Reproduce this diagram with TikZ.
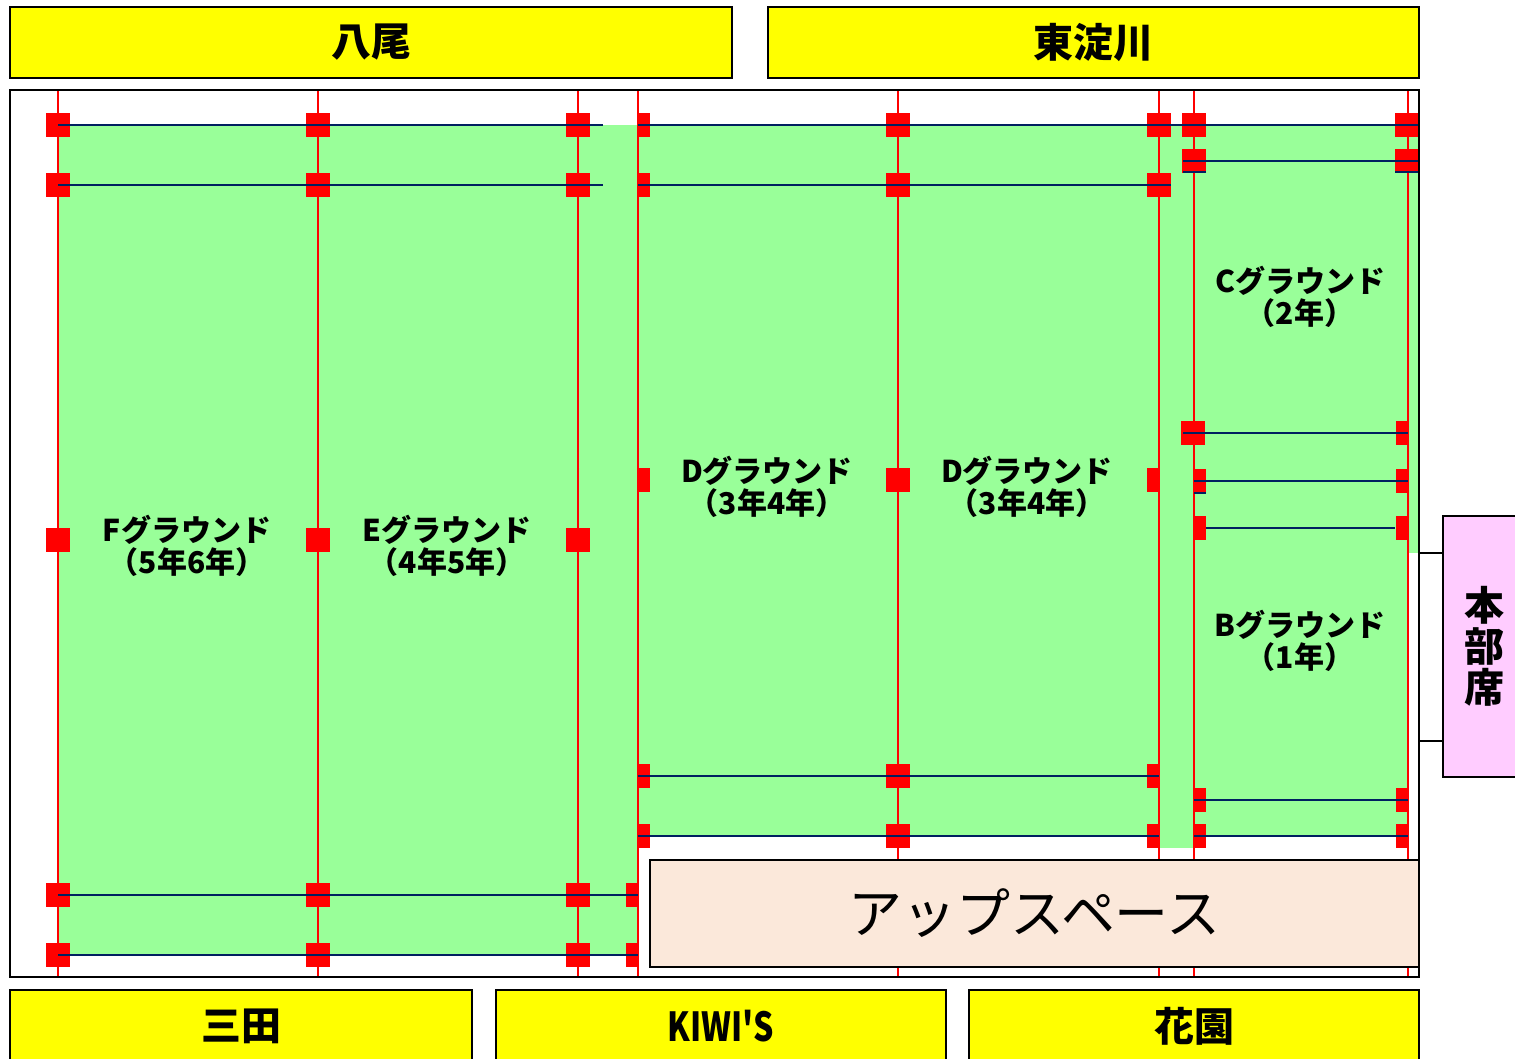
\documentclass[tikz,border=0pt]{standalone}
\usepackage{fontspec}
\newfontfamily\cjk{Noto Sans CJK JP}
\usepackage{tikz}
\usetikzlibrary{positioning}
\definecolor{colorGround}{RGB}{153,255,153}
\definecolor{colorPost}{RGB}{255,0,0}
\definecolor{colorNet}{RGB}{0,32,96}
\definecolor{colorTeam}{RGB}{255,255,0}
\definecolor{colorHQ}{RGB}{255,204,255}
\definecolor{colorUp}{RGB}{251,232,218}
\tikzset{
  team/.style={draw=black, line width=1pt, fill=colorTeam, inner sep=0pt, font=\cjk\bfseries\fontsize{20}{22}\selectfont},
  ground/.style={align=center, inner sep=0pt, font=\cjk\bfseries\fontsize{15}{16}\selectfont},
  post/.style={fill=colorPost, draw=none, minimum size=12pt, inner sep=0pt},
  pole/.style={colorPost, line width=0.75pt},
  net/.style={colorNet, line width=1pt},
}

\begin{document}
\begin{tikzpicture}[x=0.5pt, y=-0.5pt]
\useasboundingbox (0,0) rectangle (1515,1059);
% grounds
\fill[colorGround] (58,125) rectangle (638,955);
\fill[colorGround] (638,125) rectangle (1194,836);
\fill[colorGround] (1159,125) rectangle (1194,848);
\fill[colorGround] (1194,125) rectangle (1418,553);
\fill[colorGround] (1194,553) rectangle (1408,836);
% poles
\foreach \x in {58,318,578,638,898,1159,1194,1408}
  \draw[pole] (\x,90) -- (\x,977);
% posts
\foreach \x in {58,318,578}
  \foreach \y in {125,185,540,895,955}
    \node[post] (p\x-\y) at (\x,\y) {};
\foreach \y in {125,185,480,776,836}
  \node[post] (p898-\y) at (898,\y) {};
\node[post] (p1159-125) at (1159,125) {};
\node[post] (p1159-185) at (1159,185) {};
\node[post] (p1194-125) at (1194,125) {};
\node[post] (p1194-161) at (1194,161) {};
\node[post] (p1194-433) at (1193,433) {};
\node[post] (p1408-125) at (1407,125) {};
\node[post] (p1408-161) at (1407,161) {};
\foreach \y in {125,185,480,776,836}
  \fill[colorPost] (638,\y-12) rectangle ++(12,24);
\foreach \y in {895,955}
  \fill[colorPost] (626,\y-12) rectangle ++(12,24);
\foreach \y in {480,776,836}
  \fill[colorPost] (1147,\y-12) rectangle ++(12,24);
\foreach \y in {481,528,800,836}
  \fill[colorPost] (1194,\y-12) rectangle ++(12,24);
\foreach \y in {433,481,528,800,836}
  \fill[colorPost] (1396,\y-12) rectangle ++(12,24);
% nets
\draw[net] (58,125) -- (603,125);
\draw[net] (638,125) -- (1418,125);
\draw[net] (58,185) -- (603,185);
\draw[net] (638,185) -- (1171,185);
\draw[net] (58,895) -- (638,895);
\draw[net] (58,955) -- (638,955);
\draw[net] (638,776) -- (1159,776);
\draw[net] (638,836) -- (1159,836);
\draw[net] (1194,836) -- (1408,836);
\draw[net] (1183,161) -- (1418,161);
\draw[net] (1183,172) -- (1206,172);
\draw[net] (1395,172) -- (1418,172);
\draw[net] (1183,433) -- (1408,433);
\draw[net] (1194,481) -- (1408,481);
\draw[net] (1194,493) -- (1206,493);
\draw[net] (1206,528) -- (1395,528);
\draw[net] (1194,800) -- (1408,800);
% field frame
\draw[line width=1pt] (10,90) rectangle (1419,977);
\node[draw=black, line width=1pt, fill=colorUp, minimum width=384.5pt, minimum height=53.5pt, inner sep=0pt, font=\cjk\fontsize{27}{28}\selectfont] (up) at (1034.5,913.5) {アップスペース};
% teams
\node[team, minimum width=361pt, minimum height=35.5pt] (yao) at (371,42.5) {八尾};
\node[team, minimum width=325.5pt, minimum height=35.5pt] (higashi) at (1093.5,42.5) {東淀川};
\node[team, minimum width=231pt, minimum height=36pt] (sanda) at (241,1026) {三田};
\node[team, minimum width=225pt, minimum height=36pt] (kiwis) at (721,1026) {\scalebox{0.8}[1]{KIWI'S}};
\node[team, minimum width=225pt, minimum height=36pt] (hanazono) at (1194,1026) {花園};
% headquarters
\node[draw=black, line width=1pt, fill=colorHQ, minimum width=41pt, minimum height=130.5pt, inner sep=0pt, align=center, font=\cjk\bfseries\fontsize{20}{20.5}\selectfont] (hq) at (1484,646.5) {本\\部\\席};
\coordinate (hqa) at (1419,553);
\coordinate (hqb) at (1419,741);
\draw[line width=1pt] (hqa) -- (hqa -| hq.west);
\draw[line width=1pt] (hqb) -- (hqb -| hq.west);
% ground labels
\node[ground] (groundF) at (187,546) {Fグラウンド\\（5年6年）};
\node[ground] (groundE) at (447,546) {Eグラウンド\\（4年5年）};
\node[ground] (groundD) at (767,487) {Dグラウンド\\（3年4年）};
\node[ground] (groundDD) at (1027,487) {Dグラウンド\\（3年4年）};
\node[ground] (groundC) at (1300,297) {Cグラウンド\\（2年）};
\node[ground] (groundB) at (1300,641) {Bグラウンド\\（1年）};
\end{tikzpicture}
\end{document}
